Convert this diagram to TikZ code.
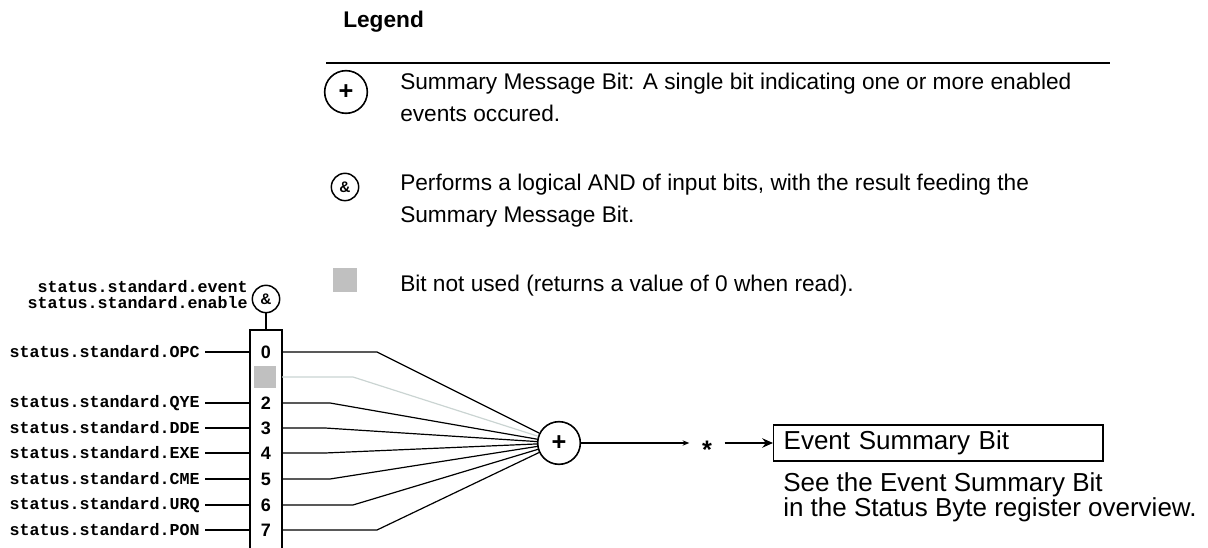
\documentclass[tikz,border=0pt]{standalone}
\usepackage{fontspec}
\setmainfont{Liberation Sans}
\setmonofont{Liberation Mono}
\usetikzlibrary{arrows.meta}
\definecolor{notused}{HTML}{C0C0C0}
\definecolor{notusedwire}{HTML}{CAD4D2}
\tikzset{
  sumnode/.style={draw,circle,line width=1.2pt,minimum size=32pt,inner sep=0pt,font=\bfseries\fontsize{19}{19}\selectfont},
  andnode/.style={draw,circle,line width=1.1pt,minimum size=20.5pt,inner sep=0pt,font=\bfseries\fontsize{11.5}{11.5}\selectfont},
  regname/.style={anchor=east,inner sep=0pt,inner xsep=3.75pt,font=\ttfamily\bfseries\fontsize{12.5}{12}\selectfont},
  bitnum/.style={inner sep=0pt,font=\bfseries\fontsize{13.5}{13.5}\selectfont},
  legtext/.style={anchor=base west,inner sep=0pt,align=left,font=\fontsize{17}{24}\selectfont},
  wire/.style={line width=0.9pt},
}
\begin{document}
\begin{tikzpicture}[x=0.75pt,y=-0.75pt]
  \useasboundingbox (0,0) rectangle (1208,548);
  % legend
  \node[anchor=base west,inner sep=0pt,font=\bfseries\fontsize{17}{17}\selectfont] (legtitle) at (343,28) {Legend};
  \draw[line width=2pt] (326,63) -- (1110,63);
  \node[sumnode] (legsum) at (346,92) {+};
  \node[legtext] (legsumtext) at (400,122) {Summary Message Bit: A single bit indicating one or more enabled\\events occured.};
  \node[andnode] (legand) at (345,187) {\&};
  \node[legtext] (legandtext) at (400,223) {Performs a logical AND of input bits, with the result feeding the\\Summary Message Bit.};
  \node[fill=notused,minimum size=18pt,inner sep=0pt] (legbox) at (345,280) {};
  \node[legtext] (legboxtext) at (400,292) {Bit not used (returns a value of 0 when read).};
  % register
  \coordinate (regl) at (250,330);
  \coordinate (regr) at (282,330);
  \draw[line width=1.1pt] (250,560) -- (regl) -- (regr) -- (282,560);
  \node[andnode] (and) at (266,299) {\&};
  \node[regname,align=right] (regnames) at (253,295) {status.standard.event\\status.standard.enable};
  \draw[wire] (and) -- (and |- regl);
  \node[sumnode] (sum) at (559,443) {+};
  \node[fill=notused,minimum width=17pt,minimum height=16pt,inner sep=0pt] (bit1) at (265,377) {};
  \draw[wire,notusedwire] (bit1 -| regr) -- (353,377) -- (sum);
  \foreach \b/\y/\bx/\name in {0/352/377/OPC,2/403/330/QYE,3/428/325/DDE,4/453/325/EXE,5/479/330/CME,6/505/353/URQ,7/530/377/PON}{
    \node[regname] (in\b) at (205,\y) {status.standard.\name};
    \node[bitnum] (bit\b) at (266,\y) {\b};
    \draw[wire] (in\b) -- (in\b -| regl);
    \draw[wire] (bit\b -| regr) -- (\bx,\y) -- (sum);
  }
  % output
  \node[inner sep=0pt,inner xsep=9.4pt,font=\bfseries\fontsize{19}{19}\selectfont] (star) at (707,450) {*};
  \node[draw,line width=1pt,anchor=west,minimum height=27pt,text width=232pt,inner xsep=7.5pt,align=left,font=\fontsize{19.5}{19.5}\selectfont] (esb) at (773,443) {Event Summary Bit};
  \node[anchor=base west,inner sep=0pt,align=left,font=\fontsize{19.5}{18}\selectfont] (esbnote) at (783,517) {See the Event Summary Bit\\in the Status Byte register overview.};
  \draw[wire,-{Stealth[length=5pt,width=4pt]}] (sum) -- (sum -| star.west);
  \draw[line width=1.7pt,-{Stealth[length=8pt,width=7pt]}] (star.east |- esb) -- (esb);
\end{tikzpicture}
\end{document}
